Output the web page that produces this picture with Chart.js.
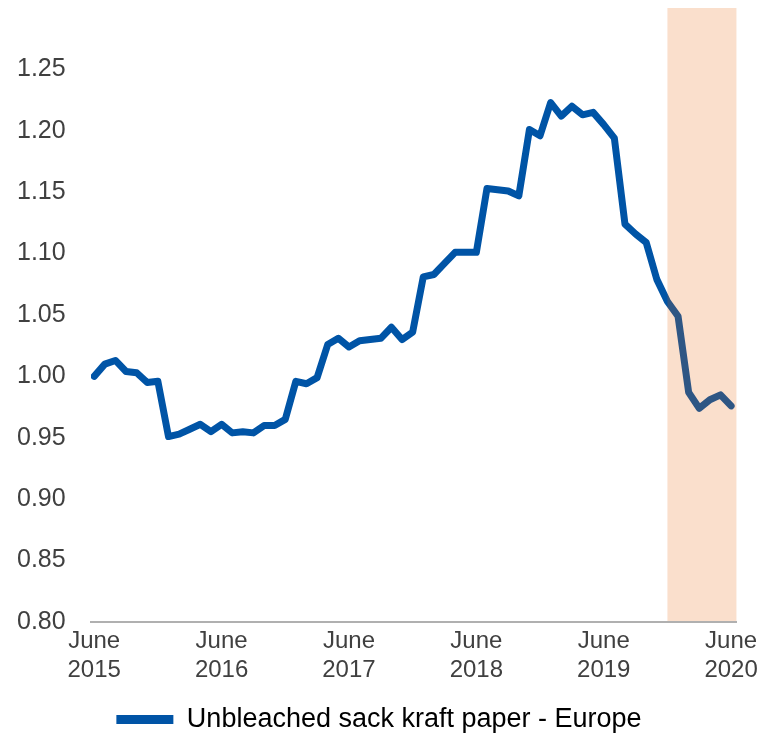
<!DOCTYPE html>
<html>
<head>
<meta charset="utf-8">
<script src="https://cdn.jsdelivr.net/npm/chart.js@4.4.1/dist/chart.umd.min.js"></script>
<style>
  html, body { margin: 0; padding: 0; background: #fff; }
  #wrap { width: 763px; height: 734px; position: relative; }
</style>
</head>
<body>
<div id="wrap"><canvas id="chart"></canvas></div>
<script>
// Monthly index, June 2015 .. June 2020 (61 months)
const monthIndex = [
  0, 1, 2, 3, 4, 5, 6, 7, 8, 9, 10, 11,
  12, 13, 14, 15, 16, 17, 18, 19, 20, 21, 22, 23,
  24, 25, 26, 27, 28, 29, 30, 31, 32, 33, 34, 35,
  36, 37, 38, 39, 40, 41, 42, 43, 44, 45, 46, 47,
  48, 49, 50, 51, 52, 53, 54, 55, 56, 57, 58, 59,
  60
];

const sackKraftEurope = [
  1.000, 1.010, 1.013, 1.004, 1.003, 0.995, 0.996, 0.951, 0.953, 0.957, 0.961, 0.955,
  0.961, 0.954, 0.955, 0.954, 0.960, 0.960, 0.965, 0.996, 0.994, 0.999, 1.026, 1.031,
  1.024, 1.029, 1.030, 1.031, 1.040, 1.030, 1.036, 1.081, 1.083, 1.092, 1.101, 1.101,
  1.101, 1.153, 1.152, 1.151, 1.147, 1.201, 1.196, 1.223, 1.212, 1.220, 1.213, 1.215,
  1.205, 1.194, 1.124, 1.116, 1.109, 1.079, 1.061, 1.049, 0.987, 0.974, 0.981, 0.985,
  0.976
];

// x ticks: one per June
const tickPositions = [0, 12, 24, 36, 48, 60];
const tickLabels = [
  ['June', '2015'], ['June', '2016'], ['June', '2017'],
  ['June', '2018'], ['June', '2019'], ['June', '2020']
];

// highlighted period: December 2019 onwards
const shadeFrom = 54;

const FONT = "'Liberation Sans', Arial, sans-serif";
const BLUE = '#0054A6';

// translucent band painted over the line
const shadeBand = {
  id: 'shadeBand',
  afterDatasetsDraw(chart) {
    const { ctx, chartArea, scales } = chart;
    const x0 = scales.x.getPixelForValue(shadeFrom);
    ctx.save();
    ctx.fillStyle = 'rgba(230, 95, 0, 0.2)';
    ctx.fillRect(x0, chartArea.top, chartArea.right - x0, chartArea.bottom - chartArea.top - 1);
    ctx.restore();
  }
};

new Chart(document.getElementById('chart'), {
  type: 'line',
  data: {
    datasets: [{
      label: 'Unbleached sack kraft paper - Europe',
      data: monthIndex.map((m, i) => ({ x: m, y: sackKraftEurope[i] })),
      borderColor: BLUE,
      backgroundColor: BLUE,
      borderWidth: 7,
      borderCapStyle: 'round',
      borderJoinStyle: 'round',
      pointRadius: 0,
      tension: 0
    }]
  },
  options: {
    responsive: true,
    maintainAspectRatio: false,
    animation: false,
    layout: { padding: { top: 8, left: 17, right: 22, bottom: -9 } },
    plugins: {
      tooltip: { enabled: false },
      legend: {
        position: 'bottom',
        labels: {
          color: '#1a1a1a',
          font: { family: FONT, size: 27 },
          boxWidth: 57,
          boxHeight: 9,
          padding: 4,
          generateLabels(chart) {
            const ds = chart.data.datasets[0];
            return [{ text: ds.label, fillStyle: BLUE, strokeStyle: BLUE, lineWidth: 0, datasetIndex: 0 }];
          }
        }
      }
    },
    scales: {
      x: {
        type: 'linear',
        min: -0.3,
        max: 60.5,
        grid: { display: false, drawTicks: false },
        border: { display: true, color: '#B0B0B0', width: 2 },
        afterBuildTicks(scale) {
          scale.ticks = tickPositions.map(v => ({ value: v }));
        },
        afterFit(scale) { scale.height = 80; },
        ticks: {
          autoSkip: false,
          maxRotation: 0,
          padding: 5,
          color: '#404040',
          font: { family: FONT, size: 24 },
          callback(value) {
            const k = tickPositions.indexOf(value);
            return k >= 0 ? tickLabels[k] : '';
          }
        }
      },
      y: {
        min: 0.80,
        max: 1.30,
        grid: { display: false, drawTicks: false },
        border: { display: false },
        afterFit(scale) {
          // labels sit flush left; the band reaches the top edge
          scale.width = 74;
          scale.paddingTop = 0;
          scale.paddingBottom = 0;
        },
        ticks: {
          stepSize: 0.05,
          padding: 0,
          crossAlign: 'far',
          color: '#404040',
          font: { family: FONT, size: 25 },
          callback(value) {
            return value > 1.26 ? '' : value.toFixed(2);
          }
        }
      }
    }
  },
  plugins: [shadeBand]
});
</script>
</body>
</html>
